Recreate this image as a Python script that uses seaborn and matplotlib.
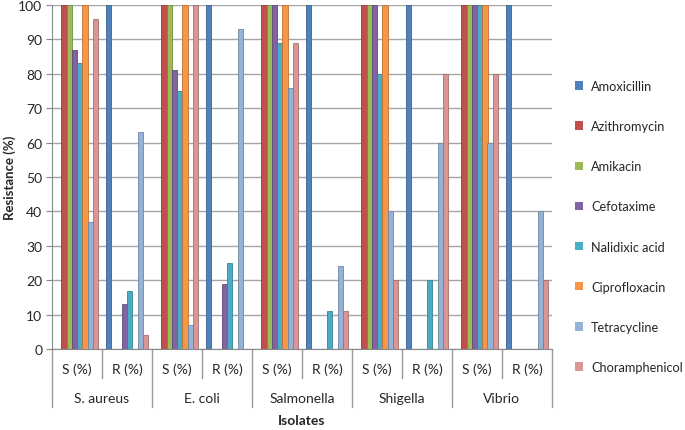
import pandas as pd
import matplotlib.pyplot as plt
import matplotlib.colors as mcolors
import seaborn as sns
from matplotlib.patches import Patch

# chart data
isolates = ['S. aureus', 'E. coli', 'Salmonella', 'Shigella', 'Vibrio']
outcomes = ['S (%)', 'R (%)']
antibiotics = ['Amoxicillin', 'Azithromycin', 'Amikacin', 'Cefotaxime',
               'Nalidixic acid', 'Ciprofloxacin', 'Tetracycline', 'Choramphenicol']

amoxicillin = [0, 100, 0, 100, 0, 100, 0, 100, 0, 100]
azithromycin = [100, 0, 100, 0, 100, 0, 100, 0, 100, 0]
amikacin = [100, 0, 100, 0, 100, 0, 100, 0, 100, 0]
cefotaxime = [87, 13, 81, 19, 100, 0, 100, 0, 100, 0]
nalidixic = [83, 17, 75, 25, 89, 11, 80, 20, 100, 0]
ciprofloxacin = [100, 0, 100, 0, 100, 0, 100, 0, 100, 0]
tetracycline = [37, 63, 7, 93, 76, 24, 40, 60, 60, 40]
choramphenicol = [96, 4, 100, 0, 89, 11, 20, 80, 80, 20]

colors = ['#4F81BD', '#C0504D', '#9BBB59', '#8064A2',
          '#4BACC6', '#F79646', '#95B3D7', '#D99694']

series = [amoxicillin, azithromycin, amikacin, cefotaxime,
          nalidixic, ciprofloxacin, tetracycline, choramphenicol]

categories = [f'{iso} {o}' for iso in isolates for o in outcomes]
rows = []
for name, vals in zip(antibiotics, series):
    for cat, v in zip(categories, vals):
        rows.append({'Category': cat, 'Antibiotic': name, 'Resistance': v})
df = pd.DataFrame(rows)

sns.set_style('white')
plt.rcParams['font.family'] = ['Lato', 'DejaVu Sans']

fig = plt.figure(figsize=(6.85, 4.31), dpi=100)
ax = fig.add_axes([52 / 685, 1 - 350 / 431, 500 / 685, 344 / 431])

ax.set_axisbelow(True)
sns.barplot(data=df, x='Category', y='Resistance', hue='Antibiotic',
            order=categories, hue_order=antibiotics, palette=colors,
            width=0.84, saturation=1, ax=ax, legend=False)

# darker edges give a slight 3D feel
for patch in ax.patches:
    fc = mcolors.to_rgb(patch.get_facecolor())
    patch.set_edgecolor(tuple(c * 0.75 for c in fc))
    patch.set_linewidth(0.6)

ax.set_ylim(0, 100)
ax.set_xlim(-0.5, 9.5)
ax.set_yticks(range(0, 101, 10))
ax.yaxis.grid(True, color='#a6a6a6', linewidth=1)
ax.tick_params(axis='y', labelsize=10, length=4, color='#888888', left=True, pad=3)
ax.set_xticks([])
ax.set_xlabel('')
ax.set_ylabel('')
for side in ['top', 'right']:
    ax.spines[side].set_visible(False)
for side in ['left', 'bottom']:
    ax.spines[side].set_color('#888888')

fig.text(10 / 685, 1 - 178 / 431, 'Resistance (%)', rotation=90, ha='center', va='center',
         fontsize=9.5, fontweight='bold')

# hierarchical category axis
trans = ax.get_xaxis_transform()
for i, cat in enumerate(categories):
    ax.text(i, -0.058, outcomes[i % 2], transform=trans,
            ha='center', va='center', fontsize=10)
for j, iso in enumerate(isolates):
    ax.text(2 * j + 0.5, -0.142, iso, transform=trans,
            ha='center', va='center', fontsize=10)
for k in range(11):
    bottom = -0.169 if k % 2 == 0 else -0.084
    ax.plot([k - 0.5, k - 0.5], [0, bottom], transform=trans,
            color='#999999', linewidth=1, clip_on=False)
ax.text(4.5, -0.206, 'Isolates', transform=trans, ha='center', va='center',
        fontsize=10, fontweight='bold')

handles = [Patch(facecolor=c, edgecolor='none', label=a) for a, c in zip(antibiotics, colors)]
fig.legend(handles=handles, loc='upper left', bbox_to_anchor=(570 / 685, 1 - 76 / 431),
           frameon=False, fontsize=9.2, handlelength=0.65, handleheight=0.65,
           handletextpad=0.6, labelspacing=2.2, borderaxespad=0)

fig.savefig('out.png', dpi=100)
